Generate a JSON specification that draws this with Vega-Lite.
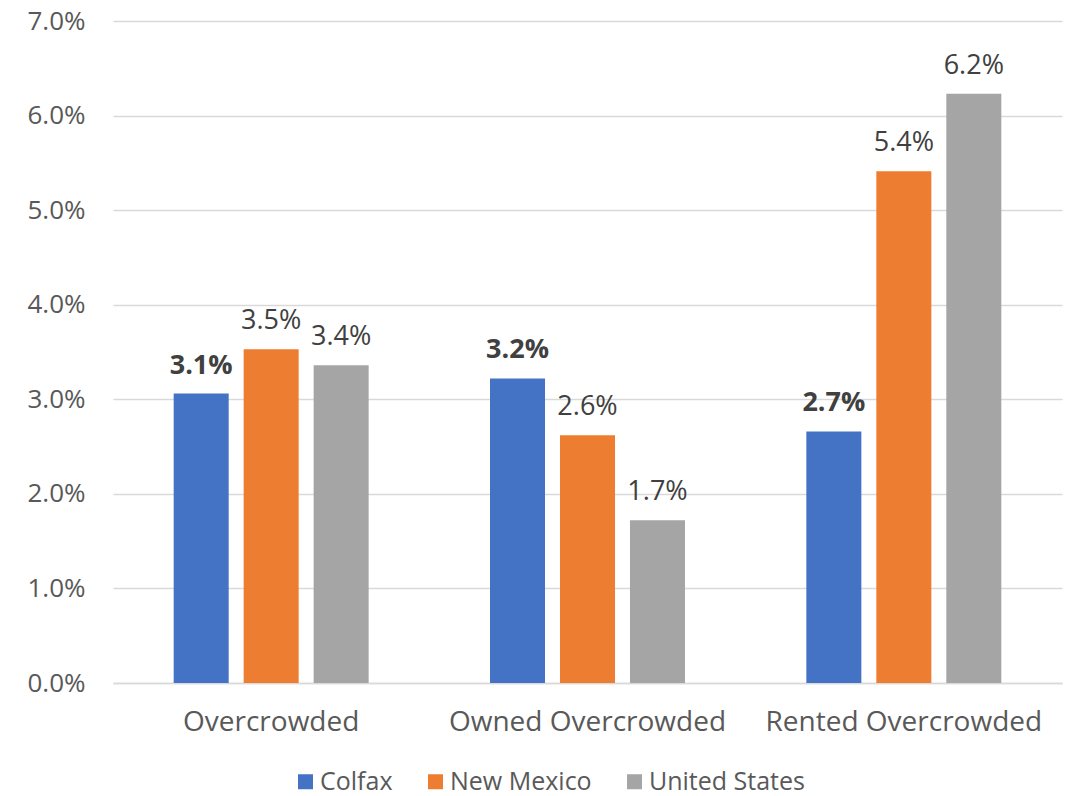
{
  "$schema": "https://vega.github.io/schema/vega-lite/v6.json",
  "width": 949,
  "height": 662,
  "autosize": {"type": "none"},
  "padding": {"left": 113, "top": 21, "right": 9, "bottom": 113},
  "background": "white",
  "config": {
    "view": {"stroke": null},
    "font": "Open Sans"
  },
  "data": {
    "values": [
      {"category": "Overcrowded", "region": "Colfax", "value": 0.0306},
      {"category": "Overcrowded", "region": "New Mexico", "value": 0.0353},
      {"category": "Overcrowded", "region": "United States", "value": 0.0336},
      {"category": "Owned Overcrowded", "region": "Colfax", "value": 0.0322},
      {"category": "Owned Overcrowded", "region": "New Mexico", "value": 0.0262},
      {"category": "Owned Overcrowded", "region": "United States", "value": 0.0172},
      {"category": "Rented Overcrowded", "region": "Colfax", "value": 0.0266},
      {"category": "Rented Overcrowded", "region": "New Mexico", "value": 0.0541},
      {"category": "Rented Overcrowded", "region": "United States", "value": 0.0623}
    ]
  },
  "encoding": {
    "x": {
      "field": "category",
      "type": "nominal",
      "sort": null,
      "scale": {"paddingInner": 0, "paddingOuter": 0},
      "axis": {
        "title": null,
        "labelAngle": 0,
        "labelFontSize": 28,
        "labelColor": "#595959",
        "labelPadding": 25,
        "labelLimit": 400,
        "domainColor": "#d9d9d9",
        "domainWidth": 1.5,
        "ticks": false
      }
    },
    "xOffset": {
      "field": "region",
      "type": "nominal",
      "sort": ["Colfax", "New Mexico", "United States"],
      "scale": {"paddingInner": 0.214, "paddingOuter": 0.867}
    },
    "y": {
      "field": "value",
      "type": "quantitative",
      "scale": {"domain": [0, 0.07]},
      "axis": {
        "title": null,
        "format": ".1%",
        "values": [0, 0.01, 0.02, 0.03, 0.04, 0.05, 0.06, 0.07],
        "labelFontSize": 26,
        "labelColor": "#595959",
        "labelPadding": 28,
        "domain": false,
        "ticks": false,
        "gridColor": "#d9d9d9",
        "gridWidth": 1.5
      }
    }
  },
  "layer": [
    {
      "mark": {"type": "bar"},
      "encoding": {
        "color": {
          "field": "region",
          "type": "nominal",
          "sort": ["Colfax", "New Mexico", "United States"],
          "scale": {"domain": ["Colfax", "New Mexico", "United States"], "range": ["#4472C4", "#ED7D31", "#A5A5A5"]},
          "legend": {
            "title": null,
            "orient": "none",
            "legendX": 180,
            "legendY": 748,
            "direction": "horizontal",
            "symbolType": "square",
            "symbolSize": 225,
            "symbolStrokeWidth": 0,
            "labelFontSize": 25,
            "labelColor": "#595959",
            "labelOffset": 2,
            "columnPadding": 30,
            "labelLimit": 400
          }
        }
      }
    },
    {
      "transform": [{"filter": "datum.region !== 'Colfax'"}],
      "mark": {"type": "text", "baseline": "alphabetic", "dy": -20, "fontSize": 27, "color": "#404040"},
      "encoding": {"text": {"field": "value", "type": "quantitative", "format": ".1%"}}
    },
    {
      "transform": [{"filter": "datum.region === 'Colfax'"}],
      "mark": {"type": "text", "baseline": "alphabetic", "dy": -20, "fontSize": 27, "fontWeight": "bold", "color": "#404040"},
      "encoding": {"text": {"field": "value", "type": "quantitative", "format": ".1%"}}
    }
  ]
}
